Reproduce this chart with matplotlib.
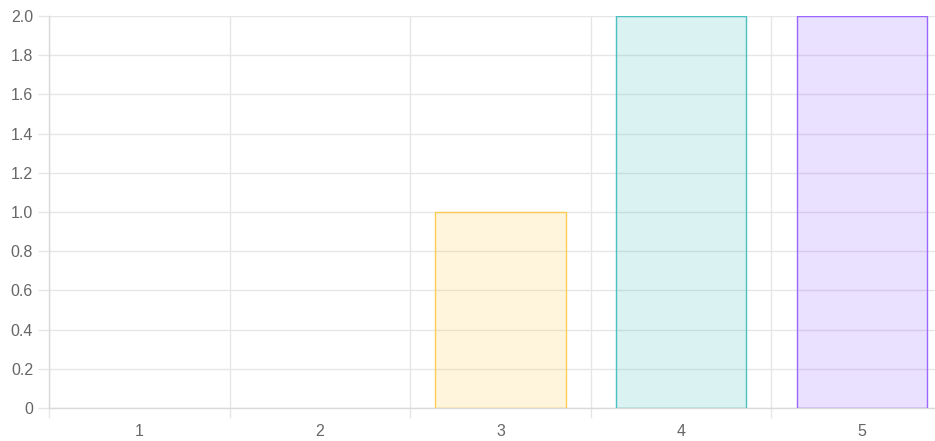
import matplotlib.pyplot as plt
import numpy as np

labels = ["1", "2", "3", "4", "5"]
values = [0, 0, 1, 2, 2]
borders = ["#ff6384", "#ff9f40", "#ffcd56", "#4bc0c0", "#9966ff"]
yticks = [0, 0.2, 0.4, 0.6, 0.8, 1.0, 1.2, 1.4, 1.6, 1.8, 2.0]
ytick_labels = ["0", "0.2", "0.4", "0.6", "0.8", "1.0", "1.2", "1.4", "1.6", "1.8", "2.0"]

plt.rcParams["font.family"] = ["Liberation Sans", "DejaVu Sans"]

W, H = 935, 441
PX = 72 / 100  # one pixel in points
fig = plt.figure(figsize=(W / 100, H / 100), dpi=100)
# plot area runs a little past the right edge of the canvas
ax = fig.add_axes([49 / W, (H - 408) / H, (952 - 49) / W, (408 - 16) / H])

grid = "#e6e6e6"
x = np.arange(len(labels))
for xi, v, c in zip(x, values, borders):
    if v <= 0:
        continue
    ax.bar(xi, v, width=0.72, color=c, alpha=0.2, zorder=2)
    ax.bar(xi, v, width=0.72, facecolor="none", edgecolor=c, linewidth=1.0, zorder=3)

ax.set_xlim(-0.5, len(labels) - 0.5)
ax.set_ylim(0, 2.0)

ax.set_yticks(yticks)
ax.set_yticklabels(ytick_labels)
ax.set_xticks(x)
ax.set_xticklabels(labels)
ax.set_xticks(np.arange(len(labels) + 1) - 0.5, minor=True)

ax.tick_params(axis="y", length=11 * PX, width=1, color=grid, pad=5 * PX,
               labelsize=11.5, labelcolor="#666666")
ax.tick_params(axis="x", which="major", length=0, pad=16 * PX,
               labelsize=11.5, labelcolor="#666666")
ax.tick_params(axis="x", which="minor", length=10 * PX, width=1, color=grid)

ax.grid(axis="y", which="major", color=grid, linewidth=1, zorder=0)
ax.grid(axis="x", which="minor", color=grid, linewidth=1, zorder=0)
ax.set_axisbelow(True)

for s in ["top", "right"]:
    ax.spines[s].set_visible(False)
for s in ["left", "bottom"]:
    ax.spines[s].set_color("#d9d9d9")
    ax.spines[s].set_linewidth(1)

fig.savefig("out.png", dpi=100)
